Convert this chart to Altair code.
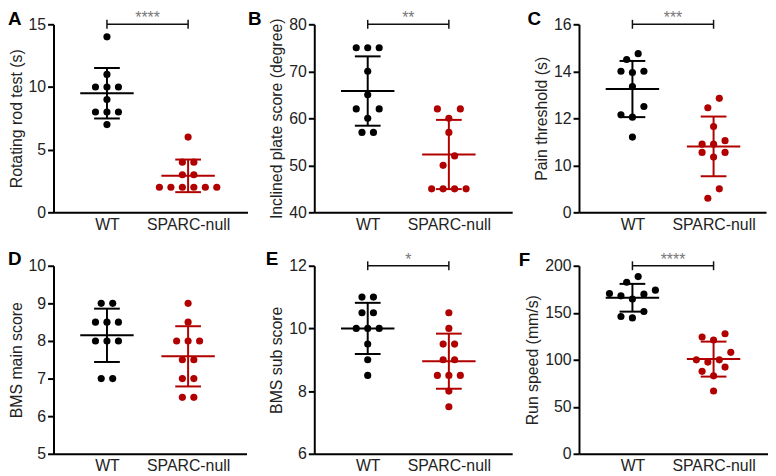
import altair as alt
import pandas as pd

# ---------------- data ----------------
GROUPS = ["WT", "SPARC-null"]
COLORS = ["#000000", "#b00000"]

A_wt = [14, 11, 10, 10, 10, 9, 8, 8, 8, 7]
A_ko = [6, 4, 4, 3, 3, 2, 2, 2, 2, 2, 2]

B_wt = [75, 75, 75, 70, 65, 62, 62, 60, 57, 57]
B_ko = [62, 62, 60, 57, 52, 50, 45, 45, 45, 45]

C_wt = [14.75, 14.5, 14.0, 14.0, 13.95, 13.35, 12.5, 12.15, 12.05, 11.2]
C_ko = [12.85, 12.45, 11.65, 11.05, 10.9, 10.9, 10.55, 10.55, 10.35, 9.0, 8.6]

D_wt = [9, 9, 8.5, 8.5, 8.5, 8, 8, 8, 7, 7]
D_ko = [9, 8.5, 8, 8, 8, 7.5, 7.5, 7, 7, 6.5, 6.5]

E_wt = [11, 11, 10.5, 10.5, 10, 10, 10, 9.5, 9, 8.5]
E_ko = [10.5, 10, 9.5, 9.5, 9, 9, 8.5, 8.5, 8.5, 8, 7.5]

F_wt = [188.5, 182.5, 174, 170.5, 169.8, 168, 164.5, 151.3, 146, 144.5]
F_ko = [127.7, 124.2, 121, 107.9, 99.9, 99.9, 97.5, 92.2, 87.7, 82.9, 66.8]

LETTERS = ["A", "B", "C", "D", "E", "F"]
Y_TITLES = ["Rotating rod test (s)", "Inclined plate score (degree)", "Pain threshold (s)",
            "BMS main score", "BMS sub score", "Run speed (mm/s)"]
Y_DOMAINS = [[0, 15], [40, 80], [8, 16], [5, 10], [6, 12], [0, 200]]
Y_TICKS = [[0, 5, 10, 15], [40, 50, 60, 70, 80], [8, 10, 12, 14, 16],
           [5, 6, 7, 8, 9, 10], [6, 8, 10, 12], [0, 50, 100, 150, 200]]
SIG = ["****", "**", "***", "", "*", "****"]

# ---------------- layout constants ----------------
H = 190
PX_PER_X = 82.0
WT_OFFSET = 54.0
DOT_GAP = 11.6
ROW_PX = 11.0
WIDTHS = [196, 200, 189, 195, 200, 191]
LETTER_POS = [(-46, 1), (-67, 1), (-52, 1), (-46, -1), (-49, -1), (-61, 0)]
FONT = "Liberation Sans"


def swarm(values, center, py):
    vals = sorted(values, reverse=True)
    rows = []
    for v in vals:
        if rows and (rows[-1][0] - v) * py <= ROW_PX:
            rows[-1].append(v)
        else:
            rows.append([v])
    out = []
    for row in rows:
        row = sorted(row)
        n = len(row)
        if n % 2:
            slots = [0] + [s for k in range(1, n) for s in (-k, k)]
        else:
            slots = [s for k in range(n) for s in (-(k + 0.5), k + 0.5)]
        for v, s in zip(row, slots[:n]):
            out.append((center + s * DOT_GAP / PX_PER_X, v))
    return out


def panel(i, wt, ko, label_expr=None):
    dom = Y_DOMAINS[i]
    width = WIDTHS[i]
    py = H / (dom[1] - dom[0])
    recs = []
    for gi, (name, vals) in enumerate(zip(GROUPS, [wt, ko])):
        for x, v in swarm(vals, gi + 1, py):
            recs.append({"x": x, "g": gi + 1, "grp": name, "v": v})
    df = pd.DataFrame(recs)

    xs = alt.Scale(domain=[1 - WT_OFFSET / PX_PER_X, 1 + (width - WT_OFFSET) / PX_PER_X],
                   nice=False, zero=False)
    ys = alt.Scale(domain=dom, nice=False, zero=False)
    xaxis = alt.Axis(values=[1, 2], labelExpr="datum.value == 1 ? 'WT' : 'SPARC-null'",
                     ticks=False, grid=False, labelPadding=4, domainWidth=2,
                     domainColor="#000000", labelFontSize=16, labelColor="#222222")
    ykw = dict(values=Y_TICKS[i], tickSize=6, tickWidth=2, tickColor="#000000",
               grid=False, domainWidth=2, domainColor="#000000", labelPadding=2,
               labelFontSize=16, labelColor="#222222", titleFontSize=16,
               titleFontWeight="normal", titleColor="#222222", titlePadding=4)
    if label_expr:
        ykw["labelExpr"] = label_expr
    yaxis = alt.Axis(**ykw)
    color = alt.Color("grp:N", scale=alt.Scale(domain=GROUPS, range=COLORS), legend=None)

    def X(f):
        return alt.X(f, scale=xs, axis=xaxis, title=None)

    def Y(f):
        return alt.Y(f, scale=ys, axis=yaxis, title=Y_TITLES[i])

    pts = alt.Chart(df).mark_circle(size=52, opacity=1).encode(x=X("x:Q"), y=Y("v:Q"), color=color)

    stats = alt.Chart(df).transform_aggregate(
        m="mean(v)", sd="stdev(v)", groupby=["g", "grp"]
    ).transform_calculate(lo="datum.m - datum.sd", hi="datum.m + datum.sd")

    vline = stats.mark_rule(strokeWidth=2).encode(x=X("g:Q"), y=Y("lo:Q"), y2=alt.Y2("hi"), color=color)
    mean = stats.mark_rule(strokeWidth=2, xOffset=-27, x2Offset=27).encode(
        x=X("g:Q"), x2=alt.X2("g"), y=Y("m:Q"), color=color)
    cap_lo = stats.mark_rule(strokeWidth=2, xOffset=-13, x2Offset=13).encode(
        x=X("g:Q"), x2=alt.X2("g"), y=Y("lo:Q"), color=color)
    cap_hi = stats.mark_rule(strokeWidth=2, xOffset=-13, x2Offset=13).encode(
        x=X("g:Q"), x2=alt.X2("g"), y=Y("hi:Q"), color=color)

    layers = [pts, vline, mean, cap_lo, cap_hi]

    if SIG[i]:
        bdf = pd.DataFrame({"a": [1], "b": [2], "t": [dom[1]], "s": [SIG[i]]})
        brule = alt.Chart(bdf).mark_rule(strokeWidth=1.5, color="#111111").encode(
            x=X("a:Q"), x2=alt.X2("b"), y=Y("t:Q"))
        ends = alt.Chart(bdf).transform_fold(["a", "b"], as_=["k", "xe"]).mark_rule(
            strokeWidth=1.5, color="#111111", yOffset=-4.5, y2Offset=4.5
        ).encode(x=X("xe:Q"), y=Y("t:Q"), y2=alt.Y2("t"))
        stars = alt.Chart(bdf).transform_calculate(xm="(datum.a + datum.b) / 2").mark_text(
            fontSize=16, color="#777777", baseline="alphabetic", dy=-1
        ).encode(x=X("xm:Q"), y=Y("t:Q"), text="s:N")
        layers += [brule, ends, stars]

    lx, ly = LETTER_POS[i]
    letter = alt.Chart(pd.DataFrame({"L": [LETTERS[i]]})).mark_text(
        fontSize=19, fontWeight="bold", align="left", baseline="alphabetic", color="#000000"
    ).encode(x=alt.value(lx), y=alt.value(ly), text="L:N")
    layers.append(letter)

    return alt.layer(*layers).properties(width=width, height=H)


panels = [
    panel(0, A_wt, A_ko),
    panel(1, B_wt, B_ko),
    panel(2, C_wt, C_ko, label_expr="datum.value == 8 ? '0' : datum.label"),
    panel(3, D_wt, D_ko),
    panel(4, E_wt, E_ko),
    panel(5, F_wt, F_ko),
]

chart = alt.concat(
    *panels, columns=3, spacing={"row": 54, "column": 67.5}, bounds="flush"
).properties(padding=0).configure(font=FONT).configure_view(strokeWidth=0)

chart.save("out.html", embed_options={"renderer": "svg", "actions": False})
